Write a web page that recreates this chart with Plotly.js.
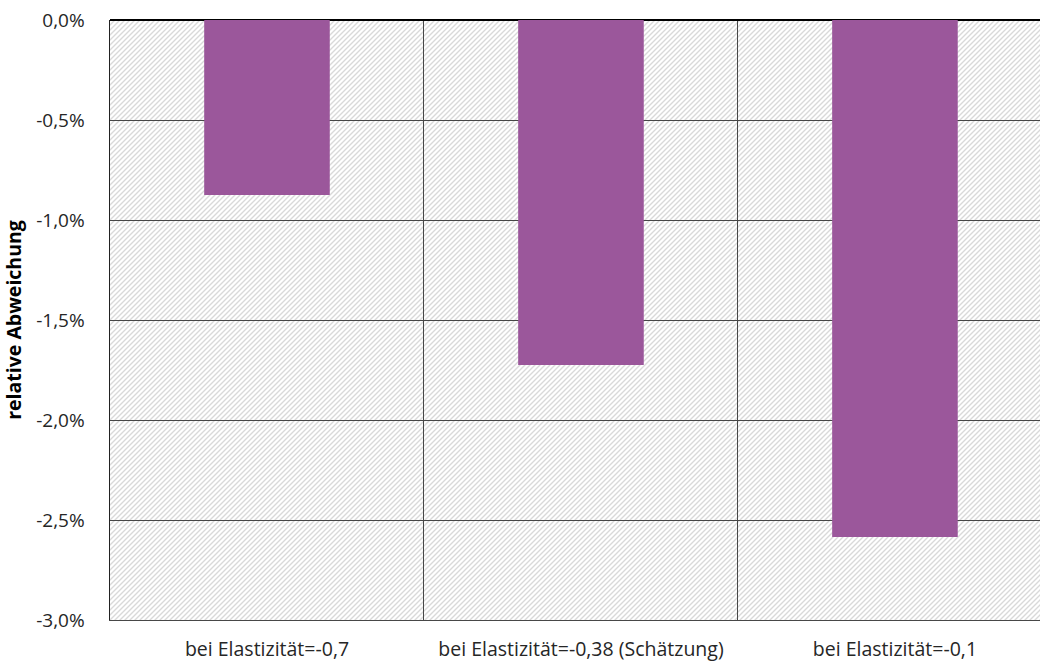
<!DOCTYPE html>
<html>
<head>
<meta charset="utf-8">
<script src="https://cdn.plot.ly/plotly-3.0.1.min.js"></script>
<style>
  html, body { margin: 0; padding: 0; background: #fff; }
  #chart { width: 1040px; height: 661px; }
</style>
</head>
<body>
<div id="chart"></div>
<script>
// categories and values (relative deviation, as fraction)
const categories = [
    'bei Elastizität=-0,7',
    'bei Elastizität=-0,38 (Schätzung)',
    'bei Elastizität=-0,1'
];
const deviation = [-0.00875, -0.01725, -0.02585];
const yTicks = [0, -0.005, -0.01, -0.015, -0.02, -0.025, -0.03];

// tick labels with comma decimals and plain hyphen like the original
function pctLabel(v) {
    return (v * 100).toFixed(1).replace('.', ',') + '%';
}
const yTickText = yTicks.map(pctLabel);

// hatched background for the plot area (diagonal light grey stripes)
const plotW = 930, plotH = 600;
const hatchSvg =
    '<svg xmlns="http://www.w3.org/2000/svg" width="' + plotW + '" height="' + plotH + '">' +
    '<defs><pattern id="h" width="5" height="5" patternUnits="userSpaceOnUse">' +
    '<path d="M-1,1 l2,-2 M0,5 l5,-5 M4,6 l2,-2" stroke="#d9d9d9" stroke-width="1.4"/>' +
    '</pattern></defs>' +
    '<rect width="100%" height="100%" fill="#fff"/>' +
    '<rect width="100%" height="100%" fill="url(#h)"/></svg>';
const hatchUrl = 'data:image/svg+xml;charset=utf-8,' + encodeURIComponent(hatchSvg);

const trace = {
    x: categories,
    y: deviation,
    type: 'bar',
    width: 0.4,
    marker: { color: '#9b579b', line: { width: 0 } },
    hoverinfo: 'skip'
};

const layout = {
    width: 1040,
    height: 661,
    margin: { l: 110, r: 0, t: 20, b: 41, pad: 0 },
    paper_bgcolor: '#ffffff',
    plot_bgcolor: 'rgba(0,0,0,0)',
    separators: ',.',
    showlegend: false,
    font: { family: 'Open Sans, Liberation Sans, sans-serif', size: 16, color: '#262626' },
    images: [{
        source: hatchUrl,
        xref: 'paper', yref: 'paper',
        x: 0, y: 1, sizex: 1, sizey: 1,
        xanchor: 'left', yanchor: 'top',
        sizing: 'stretch',
        layer: 'below'
    }],
    xaxis: {
        type: 'category',
        range: [-0.5, 2.462],
        tickson: 'boundaries',
        showgrid: true,
        gridcolor: '#474747',
        gridwidth: 1,
        showline: true,
        linecolor: '#474747',
        linewidth: 1,
        ticks: '',
        ticklabelstandoff: 12,
        tickfont: { size: 19.5, color: '#262626' },
        fixedrange: true
    },
    yaxis: {
        range: [-0.03, 0],
        tickvals: yTicks,
        ticktext: yTickText,
        showgrid: true,
        gridcolor: '#474747',
        gridwidth: 1,
        zeroline: true,
        zerolinecolor: '#000',
        zerolinewidth: 2.5,
        showline: true,
        linecolor: '#222',
        linewidth: 1.5,
        ticks: '',
        ticklabelstandoff: 20,
        tickfont: { size: 19, color: '#262626' },
        title: {
            text: '<b>relative Abweichung</b>',
            font: { size: 19.5, color: '#000' },
            standoff: 10
        },
        fixedrange: true
    }
};

Plotly.newPlot('chart', [trace], layout, { displayModeBar: false, staticPlot: true });
</script>
</body>
</html>
